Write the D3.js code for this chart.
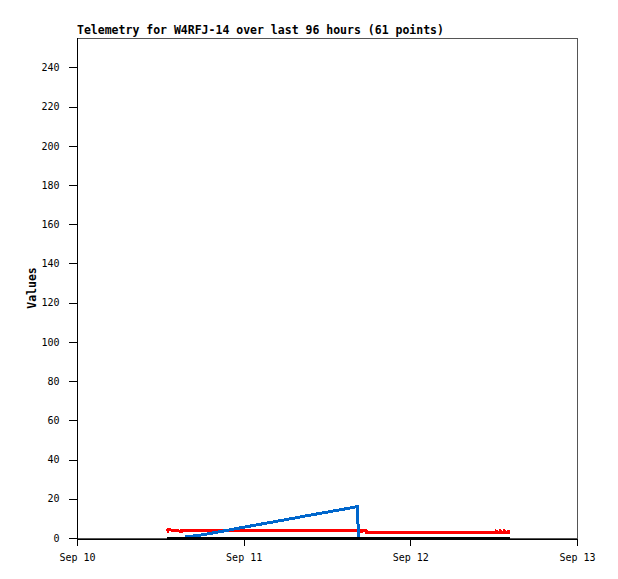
<!DOCTYPE html>
<html>
<head>
<meta charset="utf-8">
<script src="https://cdn.jsdelivr.net/npm/d3@7"></script>
<style>
  body { margin: 0; background: #fff; }
  text { font-family: "DejaVu Sans Mono", monospace; }
</style>
</head>
<body>
<div id="chart"></div>
<script>
// hours after Sep 10 00:00 (UTC) and values
var redHours  = [12.9, 13.05, 13.1, 15.05, 15.1, 40.7, 40.8, 41.0, 41.1, 41.6, 41.7, 60.3, 60.35, 60.6, 60.9, 60.95, 61.2, 61.5, 61.55, 61.8, 62.1, 62.15, 62.35];
var redValues = [3.4, 3.4, 4.3, 3.4, 4.0, 4.0, 3.4, 3.4, 4.0, 4.0, 2.8, 2.8, 3.5, 2.8, 2.8, 3.5, 2.8, 2.8, 3.5, 2.8, 2.8, 3.5, 3.5];

var blueHours  = [15.55, 18, 21, 24, 27, 30, 33, 36, 39, 40.36, 40.45, 40.6];
var blueValues = [0.5, 1.6, 3.5, 5.5, 7.4, 9.3, 11.3, 13.2, 15.1, 16.0, 8.0, 0];

var blackHours  = [12.9, 30, 50, 62.35];
var blackValues = [0, 0, 0, 0];

var yTicks = [0, 20, 40, 60, 80, 100, 120, 140, 160, 180, 200, 220, 240];
var titleText = "Telemetry for W4RFJ-14 over last 96 hours (61 points)";

var width = 618, height = 579;
var margin = {top: 38, right: 41, bottom: 41, left: 77};

var svg = d3.select("#chart").append("svg")
  .attr("width", width)
  .attr("height", height);

var start = new Date(Date.UTC(2023, 8, 10));
var end = new Date(Date.UTC(2023, 8, 13));

var x = d3.scaleUtc()
  .domain([start, end])
  .range([margin.left, width - margin.right]);

var y = d3.scaleLinear()
  .domain([0, 255])
  .range([height - margin.bottom, margin.top]);

function toDate(h) {
  return new Date(start.getTime() + h * 3600 * 1000);
}

// frame
svg.append("rect")
  .attr("x", margin.left + 0.5)
  .attr("y", margin.top + 0.5)
  .attr("width", width - margin.left - margin.right)
  .attr("height", height - margin.top - margin.bottom)
  .attr("fill", "none")
  .attr("stroke", "#555")
  .attr("shape-rendering", "crispEdges");

var line = d3.line()
  .x(function(d) { return x(toDate(d[0])); })
  .y(function(d) { return y(d[1]); });

function series(hours, values, color, w) {
  var pts = hours.map(function(h, i) { return [h, values[i]]; });
  svg.append("path")
    .datum(pts)
    .attr("d", line)
    .attr("fill", "none")
    .attr("stroke", color)
    .attr("stroke-width", w)
    .attr("shape-rendering", "crispEdges");
}

series(redHours, redValues, "#ff0000", 3);
series(blueHours, blueValues, "#0066cc", 3);
series(blackHours, blackValues, "#000000", 3);

// axes
var yAxis = svg.append("g")
  .attr("transform", "translate(" + (margin.left + 0.5) + ",0)")
  .call(d3.axisLeft(y).tickValues(yTicks).tickSize(9).tickPadding(9));

var xAxis = svg.append("g")
  .attr("transform", "translate(0," + (height - margin.bottom + 0.5) + ")")
  .call(d3.axisBottom(x).ticks(d3.utcDay.every(1)).tickFormat(d3.utcFormat("%b %d")).tickSize(7).tickSizeOuter(0).tickPadding(8));

[yAxis, xAxis].forEach(function(a) {
  a.selectAll("path, line").attr("stroke", "#000").attr("shape-rendering", "crispEdges");
  a.selectAll("text")
    .attr("fill", "#000")
    .style("font-family", "'DejaVu Sans Mono', monospace")
    .style("font-size", "10px");
});
yAxis.select(".domain").remove();
svg.append("line")
  .attr("x1", margin.left + 0.5).attr("x2", margin.left + 0.5)
  .attr("y1", margin.top).attr("y2", height - margin.bottom)
  .attr("stroke", "#000")
  .attr("shape-rendering", "crispEdges");

// title
svg.append("text")
  .attr("x", margin.left)
  .attr("y", 34)
  .attr("font-size", "11.5px")
  .attr("font-weight", "bold")
  .text(titleText);

// y label
svg.append("text")
  .attr("transform", "translate(36," + ((margin.top + height - margin.bottom) / 2) + ") rotate(-90)")
  .attr("text-anchor", "middle")
  .attr("font-size", "11.5px")
  .attr("font-weight", "bold")
  .text("Values");
</script>
</body>
</html>
